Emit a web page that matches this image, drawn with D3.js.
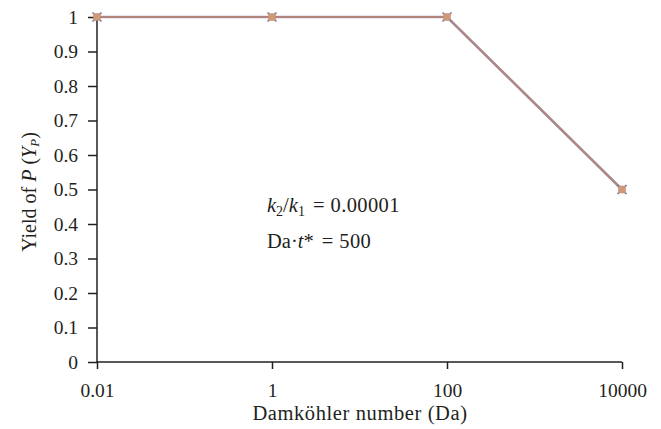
<!DOCTYPE html>
<html><head><meta charset="utf-8">
<script src="https://cdn.jsdelivr.net/npm/d3@7"></script>
<style>
body{margin:0;background:#fff;}
svg text{font-family:"Liberation Serif","Times New Roman","DejaVu Serif",serif;fill:#231f20;}
</style></head>
<body><svg id="c" width="661" height="429"></svg>
<script>
const damkohler = [0.01, 1, 100, 10000];
const yieldP = [1, 1, 1, 0.5];
const xTicks = [0.01, 1, 100, 10000];
const xTickLabels = ["0.01", "1", "100", "10000"];
const yTicks = [0, 0.1, 0.2, 0.3, 0.4, 0.5, 0.6, 0.7, 0.8, 0.9, 1];
const yTickLabels = ["0", "0.1", "0.2", "0.3", "0.4", "0.5", "0.6", "0.7", "0.8", "0.9", "1"];

const FONT = '"Liberation Serif","Times New Roman","DejaVu Serif",serif';
const svg = d3.select("#c");
const x = d3.scaleLog().domain([0.01, 10000]).range([97, 622]);
const y = d3.scaleLinear().domain([0, 1]).range([362, 17]);

// y axis
const yAxis = d3.axisLeft(y).tickValues(yTicks).tickFormat((d,i)=>yTickLabels[i]).tickSize(9).tickPadding(10);
const gy = svg.append("g").attr("transform","translate(97,0)").call(yAxis);
gy.attr("font-family",FONT).attr("font-size",null);
gy.select(".domain").attr("stroke","#231f20").attr("stroke-width",1.5).attr("d","M0,17V362");
gy.selectAll(".tick line").attr("stroke","#231f20").attr("stroke-width",1.5);
gy.selectAll(".tick text").style("font-size","19.5px").style("font-family",FONT).attr("fill","#231f20");

// x axis
const xAxis = d3.axisBottom(x).tickValues(xTicks).tickFormat((d,i)=>xTickLabels[i]).tickSize(7).tickPadding(14);
const gx = svg.append("g").attr("transform","translate(0,362)").call(xAxis);
gx.attr("font-family",FONT).attr("font-size",null);
gx.select(".domain").attr("stroke","#231f20").attr("stroke-width",1.5).attr("d","M97,0H622");
gx.selectAll(".tick line").attr("stroke","#231f20").attr("stroke-width",1.5);
gx.selectAll(".tick text").style("font-size","19.5px").style("font-family",FONT).attr("fill","#231f20");

// axis titles
svg.append("text").attr("x",360).attr("y",420).attr("text-anchor","middle")
  .style("font-family",FONT).style("font-size","20.5px").attr("letter-spacing","0.6px").text("Damköhler number (Da)");

const yl = svg.append("text").attr("transform","translate(36,192) rotate(-90)")
  .attr("text-anchor","middle").style("font-family",FONT).style("font-size","20px");
yl.append("tspan").text("Yield of ");
yl.append("tspan").attr("font-style","italic").text("P");
yl.append("tspan").text(" (");
yl.append("tspan").attr("font-style","italic").text("Y");
yl.append("tspan").attr("font-style","italic").style("font-size","13px").attr("dy","3").text("P");
yl.append("tspan").attr("dy","-3").text(")");

// annotation
const a1 = svg.append("text").attr("x",267).attr("y",212).style("font-family",FONT).style("font-size","20.5px");
a1.append("tspan").attr("font-style","italic").text("k");
a1.append("tspan").style("font-size","14px").attr("dy","4").text("2");
a1.append("tspan").attr("dy","-4").text("/");
a1.append("tspan").attr("font-style","italic").text("k");
a1.append("tspan").style("font-size","14px").attr("dy","4").text("1");
a1.append("tspan").attr("dy","-4").attr("dx","8").text("=");
a1.append("tspan").attr("dx","6").attr("letter-spacing","0.4px").text("0.00001");

const a2 = svg.append("text").attr("x",267).attr("y",248).style("font-family",FONT).style("font-size","20.5px");
a2.append("tspan").text("Da·");
a2.append("tspan").attr("font-style","italic").text("t");
a2.append("tspan").text("*");
a2.append("tspan").attr("dx","8").text("=");
a2.append("tspan").attr("dx","6").attr("letter-spacing","0.4px").text("500");

// data
const pts = damkohler.map((d,i)=>({x:d,y:yieldP[i]}));
const line = d3.line().x(d=>x(d.x)).y(d=>y(d.y));
svg.append("path").datum(pts).attr("d",line).attr("fill","none").attr("stroke","#9aa0c0").attr("stroke-width",2.6);
svg.append("path").datum(pts).attr("d",line).attr("fill","none").attr("stroke","#b4847e").attr("stroke-width",2);

svg.selectAll("path.xm").data(pts).enter().append("path").attr("class","xm")
  .attr("d",d=>{const cx=x(d.x),cy=y(d.y),r=4.5;return `M${cx-r},${cy-r}L${cx+r},${cy+r}M${cx-r},${cy+r}L${cx+r},${cy-r}`;})
  .attr("stroke","#6f75a8").attr("stroke-width",1.6);
svg.selectAll("rect.sq").data(pts).enter().append("rect").attr("class","sq")
  .attr("x",d=>x(d.x)-3.5).attr("y",d=>y(d.y)-3.5).attr("width",7).attr("height",7)
  .attr("fill","#d09a78").attr("stroke","#c08a70").attr("stroke-width",0.5);
</script></body></html>
